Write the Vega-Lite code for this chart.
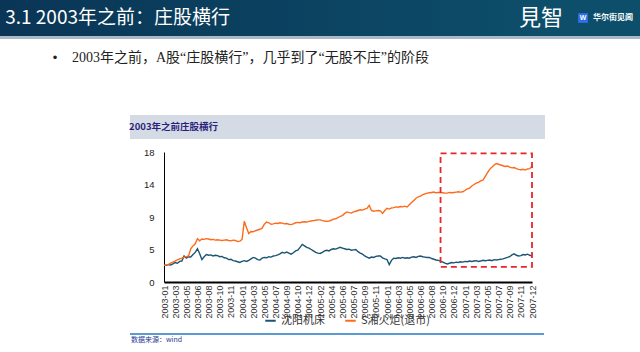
{
  "$schema": "https://vega.github.io/schema/vega-lite/v6.json",
  "background": "white",
  "padding": 0,
  "spacing": 0,
  "bounds": "full",
  "config": {"view": {"stroke": null}, "font": "Liberation Sans", "text": {"fontSize": 0}},
  "resolve": {"scale": {"color": "independent"}, "legend": {"color": "independent"}},
  "vconcat": [
    {
      "spacing": 0, "bounds": "flush",
      "hconcat": [
        {"width": 226, "height": 36, "data": {"values": [{}]},
         "mark": {"type": "rect", "fill": {"gradient": "linear", "x1": 0, "x2": 1, "y1": 0, "y2": 0, "stops": [{"offset": 0, "color": "#0a3556"}, {"offset": 1, "color": "#0b3f5e"}]}}},
        {"width": 8, "height": 36, "data": {"values": [{}]}, "view": {"fill": "#0b3f5e", "stroke": null},
         "mark": {"type": "text", "text": "3.1 2003年之前：庄股横行", "align": "right", "baseline": "middle", "font": "Noto Sans CJK SC", "fontSize": 19, "color": "white"}},
        {"width": 325, "height": 36, "data": {"values": [{}]},
         "mark": {"type": "rect", "fill": {"gradient": "linear", "x1": 0, "x2": 1, "y1": 0, "y2": 0, "stops": [{"offset": 0, "color": "#0b3f5e"}, {"offset": 1, "color": "#0d4f6b"}]}}},
        {"width": 8, "height": 36, "data": {"values": [{}]}, "view": {"fill": "#0d4f6b", "stroke": null},
         "mark": {"type": "text", "text": "見智", "align": "right", "baseline": "middle", "font": "Noto Sans CJK SC", "fontSize": 22, "color": "white"}},
        {"width": 11, "height": 36, "data": {"values": [{}]}, "view": {"fill": "#0d4f6b", "stroke": null}, "mark": {"type": "text", "text": ""}},
        {"width": 10, "height": 36, "data": {"values": [{}]}, "view": {"fill": "#0d4f6b", "stroke": null},
         "layer": [
           {"mark": {"type": "square", "fill": "#2d6fe6", "opacity": 1, "size": 95}},
           {"mark": {"type": "text", "text": "W", "fontSize": 7, "fontWeight": "bold", "color": "white", "baseline": "middle", "align": "center"}}
         ]},
        {"width": 44, "height": 36, "data": {"values": [{}]}, "view": {"fill": "#0d4f6b", "stroke": null}, "mark": {"type": "text", "text": ""}},
        {"width": 2, "height": 36, "data": {"values": [{}]}, "view": {"fill": "#0d4f6b", "stroke": null},
         "mark": {"type": "text", "text": "华尔街见闻", "align": "right", "baseline": "middle", "font": "Noto Sans CJK SC", "fontSize": 8, "fontWeight": "bold", "color": "white"}},
        {"width": 6, "height": 36, "data": {"values": [{}]}, "view": {"fill": "#0d4f6b", "stroke": null}, "mark": {"type": "text", "text": ""}}
      ]
    },
    {"width": 640, "height": 3, "data": {"values": [{}]}, "view": {"fill": "#a9bac6", "stroke": null}, "mark": {"type": "text", "text": ""}},
    {"width": 640, "height": 11, "data": {"values": [{}]}, "mark": {"type": "text", "text": ""}},
    {
      "spacing": 0, "bounds": "flush",
      "hconcat": [
        {"width": 53, "height": 15, "data": {"values": [{}]}, "mark": {"type": "text", "text": ""}},
        {"width": 4, "height": 15, "data": {"values": [{}]}, "mark": {"type": "text", "text": "•", "align": "center", "baseline": "middle", "fontSize": 13, "color": "#222"}},
        {"width": 14, "height": 15, "data": {"values": [{}]}, "mark": {"type": "text", "text": ""}},
        {"width": 2, "height": 15, "data": {"values": [{}]}, "mark": {"type": "text", "text": "2003年之前，A股“庄股横行”，几乎到了“无股不庄”的阶段", "align": "left", "baseline": "middle", "font": "Liberation Serif, Noto Sans CJK SC", "fontSize": 14, "color": "#222"}},
        {"width": 567, "height": 15, "data": {"values": [{}]}, "mark": {"type": "text", "text": ""}}
      ]
    },
    {"width": 640, "height": 50, "data": {"values": [{}]}, "mark": {"type": "text", "text": ""}},
    {
      "spacing": 0, "bounds": "flush",
      "hconcat": [
        {"width": 130, "height": 24, "data": {"values": [{}]}, "mark": {"type": "text", "text": ""}},
        {"width": 84, "height": 24, "data": {"values": [{}]}, "view": {"fill": "#d5dbe4", "stroke": null}, "mark": {"type": "text", "text": ""}},
        {"width": 8, "height": 24, "data": {"values": [{}]}, "view": {"fill": "#d5dbe4", "stroke": null},
         "mark": {"type": "text", "text": "2003年之前庄股横行", "align": "right", "baseline": "middle", "font": "Noto Sans CJK SC", "fontSize": 9.5, "fontWeight": "bold", "color": "#2a1f7c"}},
        {"width": 323, "height": 24, "data": {"values": [{}]}, "view": {"fill": "#d5dbe4", "stroke": null}, "mark": {"type": "text", "text": ""}},
        {"width": 95, "height": 24, "data": {"values": [{}]}, "mark": {"type": "text", "text": ""}}
      ]
    },
    {"width": 640, "height": 8, "data": {"values": [{}]}, "mark": {"type": "text", "text": ""}},
    {
      "spacing": 0, "bounds": "flush",
      "resolve": {"scale": {"color": "independent"}, "legend": {"color": "independent"}},
      "hconcat": [
        {"width": 164, "height": 130, "data": {"values": [{}]}, "mark": {"type": "text", "text": ""}},
        {
          "width": 368, "height": 130,
          "layer": [
            {
              "data": {"values": [
{"date":"2003-01-02","沈阳机床":2.35,"S湘火炬(退市)":2.3},
{"date":"2003-01-13","沈阳机床":2.3,"S湘火炬(退市)":2.35},
{"date":"2003-01-22","沈阳机床":2.4,"S湘火炬(退市)":2.45},
{"date":"2003-02-12","沈阳机床":2.35,"S湘火炬(退市)":2.6},
{"date":"2003-02-21","沈阳机床":2.5,"S湘火炬(退市)":2.75},
{"date":"2003-03-05","沈阳机床":2.7,"S湘火炬(退市)":2.9},
{"date":"2003-03-14","沈阳机床":2.6,"S湘火炬(退市)":3.05},
{"date":"2003-03-25","沈阳机床":2.85,"S湘火炬(退市)":3.2},
{"date":"2003-04-03","沈阳机床":2.9,"S湘火炬(退市)":3.3},
{"date":"2003-04-24","沈阳机床":3.6,"S湘火炬(退市)":3.45},
{"date":"2003-05-12","沈阳机床":3.3,"S湘火炬(退市)":3.5},
{"date":"2003-05-21","沈阳机床":3.5,"S湘火炬(退市)":3.6},
{"date":"2003-05-30","沈阳机床":3.45,"S湘火炬(退市)":4.6},
{"date":"2003-06-10","沈阳机床":3.8,"S湘火炬(退市)":5.0},
{"date":"2003-06-19","沈阳机床":4.1,"S湘火炬(退市)":5.3},
{"date":"2003-06-30","沈阳机床":4.6,"S湘火炬(退市)":6.0},
{"date":"2003-07-09","沈阳机床":3.9,"S湘火炬(退市)":5.7},
{"date":"2003-07-18","沈阳机床":3.1,"S湘火炬(退市)":5.95},
{"date":"2003-07-29","沈阳机床":3.5,"S湘火炬(退市)":5.9},
{"date":"2003-08-07","沈阳机床":3.8,"S湘火炬(退市)":6.0},
{"date":"2003-08-19","沈阳机床":3.7,"S湘火炬(退市)":5.95},
{"date":"2003-08-28","沈阳机床":3.75,"S湘火炬(退市)":5.85},
{"date":"2003-09-08","沈阳机床":3.6,"S湘火炬(退市)":5.9},
{"date":"2003-09-17","沈阳机床":3.7,"S湘火炬(退市)":5.8},
{"date":"2003-09-26","沈阳机床":3.65,"S湘火炬(退市)":5.85},
{"date":"2003-10-14","沈阳机床":3.5,"S湘火炬(退市)":5.8},
{"date":"2003-10-23","沈阳机床":3.55,"S湘火炬(退市)":5.75},
{"date":"2003-11-03","沈阳机床":3.35,"S湘火炬(退市)":5.8},
{"date":"2003-11-12","沈阳机床":3.3,"S湘火炬(退市)":5.85},
{"date":"2003-11-19","沈阳机床":3.1,"S湘火炬(退市)":5.75},
{"date":"2003-11-28","沈阳机床":3.15,"S湘火炬(退市)":5.7},
{"date":"2003-12-09","沈阳机床":2.95,"S湘火炬(退市)":5.8},
{"date":"2003-12-18","沈阳机床":2.9,"S湘火炬(退市)":5.75},
{"date":"2003-12-29","沈阳机床":2.8,"S湘火炬(退市)":5.6},
{"date":"2004-01-09","沈阳机床":2.7,"S湘火炬(退市)":5.65},
{"date":"2004-01-20","沈阳机床":2.85,"S湘火炬(退市)":5.9},
{"date":"2004-02-03","沈阳机床":2.95,"S湘火炬(退市)":8.4},
{"date":"2004-02-12","沈阳机床":2.85,"S湘火炬(退市)":7.5},
{"date":"2004-02-23","沈阳机床":3.0,"S湘火炬(退市)":6.7},
{"date":"2004-03-04","沈阳机床":3.2,"S湘火炬(退市)":7.0},
{"date":"2004-03-17","沈阳机床":3.4,"S湘火炬(退市)":6.95},
{"date":"2004-03-26","沈阳机床":3.3,"S湘火炬(退市)":7.1},
{"date":"2004-04-06","沈阳机床":3.1,"S湘火炬(退市)":7.2},
{"date":"2004-04-15","沈阳机床":3.05,"S湘火炬(退市)":7.3},
{"date":"2004-04-26","沈阳机床":3.3,"S湘火炬(退市)":7.45},
{"date":"2004-05-13","沈阳机床":3.4,"S湘火炬(退市)":8.0},
{"date":"2004-05-24","沈阳机床":3.35,"S湘火炬(退市)":8.3},
{"date":"2004-06-02","沈阳机床":3.5,"S湘火炬(退市)":8.2},
{"date":"2004-06-11","沈阳机床":3.45,"S湘火炬(退市)":8.0},
{"date":"2004-06-22","沈阳机床":3.6,"S湘火炬(退市)":8.05},
{"date":"2004-07-06","沈阳机床":3.65,"S湘火炬(退市)":8.15},
{"date":"2004-07-15","沈阳机床":3.75,"S湘火炬(退市)":8.1},
{"date":"2004-07-26","沈阳机床":3.9,"S湘火炬(退市)":8.2},
{"date":"2004-08-04","沈阳机床":4.1,"S湘火炬(退市)":8.15},
{"date":"2004-08-20","沈阳机床":4.0,"S湘火炬(退市)":8.05},
{"date":"2004-09-01","沈阳机床":4.15,"S湘火炬(退市)":8.1},
{"date":"2004-09-10","沈阳机床":4.0,"S湘火炬(退市)":8.0},
{"date":"2004-09-21","沈阳机床":3.85,"S湘火炬(退市)":7.95},
{"date":"2004-10-11","沈阳机床":4.05,"S湘火炬(退市)":8.05},
{"date":"2004-10-19","沈阳机床":4.3,"S湘火炬(退市)":8.2},
{"date":"2004-10-27","沈阳机床":4.4,"S湘火炬(退市)":8.25},
{"date":"2004-11-05","沈阳机床":4.8,"S湘火炬(退市)":8.2},
{"date":"2004-11-16","沈阳机床":5.2,"S湘火炬(退市)":8.3},
{"date":"2004-11-25","沈阳机床":5.0,"S湘火炬(退市)":8.35},
{"date":"2004-12-06","沈阳机床":4.8,"S湘火炬(退市)":8.3},
{"date":"2004-12-16","沈阳机床":4.7,"S湘火炬(退市)":8.4},
{"date":"2004-12-27","沈阳机床":4.5,"S湘火炬(退市)":8.45},
{"date":"2005-01-07","沈阳机床":4.3,"S湘火炬(退市)":8.5},
{"date":"2005-01-18","沈阳机床":4.1,"S湘火炬(退市)":8.55},
{"date":"2005-01-27","沈阳机床":4.0,"S湘火炬(退市)":8.6},
{"date":"2005-02-17","沈阳机床":3.95,"S湘火炬(退市)":8.6},
{"date":"2005-02-28","沈阳机床":4.1,"S湘火炬(退市)":8.5},
{"date":"2005-03-09","沈阳机床":4.3,"S湘火炬(退市)":8.45},
{"date":"2005-03-18","沈阳机床":4.4,"S湘火炬(退市)":8.4},
{"date":"2005-04-05","沈阳机床":4.3,"S湘火炬(退市)":8.45},
{"date":"2005-04-14","沈阳机床":4.5,"S湘火炬(退市)":8.55},
{"date":"2005-04-25","沈阳机床":4.6,"S湘火炬(退市)":8.7},
{"date":"2005-05-11","沈阳机床":4.55,"S湘火炬(退市)":8.75},
{"date":"2005-05-20","沈阳机床":4.7,"S湘火炬(退市)":8.9},
{"date":"2005-05-31","沈阳机床":4.8,"S湘火炬(退市)":9.1},
{"date":"2005-06-08","沈阳机床":4.7,"S湘火炬(退市)":9.2},
{"date":"2005-06-17","沈阳机床":4.6,"S湘火炬(退市)":9.5},
{"date":"2005-06-28","沈阳机床":4.5,"S湘火炬(退市)":9.7},
{"date":"2005-07-07","沈阳机床":4.55,"S湘火炬(退市)":9.6},
{"date":"2005-07-18","沈阳机床":4.4,"S湘火炬(退市)":9.55},
{"date":"2005-07-28","沈阳机床":4.45,"S湘火炬(退市)":9.7},
{"date":"2005-08-08","沈阳机床":4.5,"S湘火炬(退市)":9.8},
{"date":"2005-08-17","沈阳机床":4.2,"S湘火炬(退市)":9.9},
{"date":"2005-08-26","沈阳机床":4.0,"S湘火炬(退市)":10.0},
{"date":"2005-09-06","沈阳机床":3.85,"S湘火炬(退市)":9.95},
{"date":"2005-09-15","沈阳机床":3.6,"S湘火炬(退市)":10.1},
{"date":"2005-09-26","沈阳机床":3.45,"S湘火炬(退市)":10.2},
{"date":"2005-10-12","沈阳机床":3.3,"S湘火炬(退市)":10.6},
{"date":"2005-10-21","沈阳机床":3.45,"S湘火炬(退市)":9.9},
{"date":"2005-11-01","沈阳机床":3.4,"S湘火炬(退市)":9.8},
{"date":"2005-11-14","沈阳机床":3.55,"S湘火炬(退市)":9.85},
{"date":"2005-11-23","沈阳机床":3.6,"S湘火炬(退市)":9.9},
{"date":"2005-12-02","沈阳机床":3.6,"S湘火炬(退市)":9.85},
{"date":"2005-12-13","沈阳机床":3.35,"S湘火炬(退市)":9.5},
{"date":"2005-12-22","沈阳机床":3.2,"S湘火炬(退市)":9.9},
{"date":"2006-01-05","沈阳机床":3.1,"S湘火炬(退市)":10.2},
{"date":"2006-01-16","沈阳机床":2.4,"S湘火炬(退市)":10.1},
{"date":"2006-01-25","沈阳机床":3.0,"S湘火炬(退市)":10.25},
{"date":"2006-02-10","沈阳机床":3.3,"S湘火炬(退市)":10.3},
{"date":"2006-02-21","沈阳机床":3.25,"S湘火炬(退市)":10.4},
{"date":"2006-03-07","沈阳机床":3.35,"S湘火炬(退市)":10.35},
{"date":"2006-03-16","沈阳机床":3.3,"S湘火炬(退市)":10.45},
{"date":"2006-03-27","沈阳机床":3.4,"S湘火炬(退市)":10.4},
{"date":"2006-04-05","沈阳机床":3.3,"S湘火炬(退市)":10.5},
{"date":"2006-04-25","沈阳机床":3.35,"S湘火炬(退市)":10.4},
{"date":"2006-05-08","沈阳机床":3.3,"S湘火炬(退市)":10.7},
{"date":"2006-05-17","沈阳机床":3.45,"S湘火炬(退市)":11.0},
{"date":"2006-05-26","沈阳机床":3.5,"S湘火炬(退市)":11.3},
{"date":"2006-06-06","沈阳机床":3.4,"S湘火炬(退市)":11.6},
{"date":"2006-06-15","沈阳机床":3.55,"S湘火炬(退市)":11.8},
{"date":"2006-06-29","沈阳机床":3.6,"S湘火炬(退市)":11.9},
{"date":"2006-07-10","沈阳机床":3.5,"S湘火炬(退市)":12.1},
{"date":"2006-07-19","沈阳机床":3.45,"S湘火炬(退市)":12.2},
{"date":"2006-07-28","沈阳机床":3.4,"S湘火炬(退市)":12.3},
{"date":"2006-08-08","沈阳机床":3.4,"S湘火炬(退市)":12.35},
{"date":"2006-08-18","沈阳机床":3.25,"S湘火炬(退市)":12.4},
{"date":"2006-08-29","沈阳机床":3.15,"S湘火炬(退市)":12.45},
{"date":"2006-09-07","沈阳机床":3.05,"S湘火炬(退市)":12.35},
{"date":"2006-09-18","沈阳机床":3.0,"S湘火炬(退市)":12.4},
{"date":"2006-09-27","沈阳机床":2.9,"S湘火炬(退市)":12.4},
{"date":"2006-10-16","沈阳机床":2.75,"S湘火炬(退市)":12.35},
{"date":"2006-10-25","沈阳机床":2.6,"S湘火炬(退市)":12.3},
{"date":"2006-11-03","沈阳机床":2.5,"S湘火炬(退市)":12.3},
{"date":"2006-11-14","沈阳机床":2.6,"S湘火炬(退市)":12.4},
{"date":"2006-11-23","沈阳机床":2.7,"S湘火炬(退市)":12.35},
{"date":"2006-12-06","沈阳机床":2.65,"S湘火炬(退市)":12.4},
{"date":"2006-12-15","沈阳机床":2.75,"S湘火炬(退市)":12.45},
{"date":"2006-12-26","沈阳机床":2.7,"S湘火炬(退市)":12.5},
{"date":"2007-01-08","沈阳机床":2.8,"S湘火炬(退市)":12.45},
{"date":"2007-01-17","沈阳机床":2.75,"S湘火炬(退市)":12.5},
{"date":"2007-01-29","沈阳机床":2.85,"S湘火炬(退市)":12.7},
{"date":"2007-02-07","沈阳机床":2.8,"S湘火炬(退市)":12.9},
{"date":"2007-02-16","沈阳机床":2.9,"S湘火炬(退市)":13.0},
{"date":"2007-03-05","沈阳机床":2.85,"S湘火炬(退市)":13.3},
{"date":"2007-03-14","沈阳机床":2.9,"S湘火炬(退市)":13.5},
{"date":"2007-03-27","沈阳机床":2.95,"S湘火炬(退市)":13.7},
{"date":"2007-04-05","沈阳机床":2.85,"S湘火炬(退市)":13.8},
{"date":"2007-04-16","沈阳机床":2.9,"S湘火炬(退市)":14.0},
{"date":"2007-04-25","沈阳机床":3.0,"S湘火炬(退市)":14.1},
{"date":"2007-05-11","沈阳机床":2.95,"S湘火炬(退市)":14.6},
{"date":"2007-05-22","沈阳机床":3.0,"S湘火炬(退市)":15.1},
{"date":"2007-05-31","沈阳机床":3.05,"S湘火炬(退市)":15.6},
{"date":"2007-06-11","沈阳机床":2.95,"S湘火炬(退市)":15.9},
{"date":"2007-06-20","沈阳机床":3.1,"S湘火炬(退市)":16.2},
{"date":"2007-07-02","沈阳机床":3.05,"S湘火炬(退市)":16.4},
{"date":"2007-07-12","沈阳机床":3.1,"S湘火炬(退市)":16.3},
{"date":"2007-07-23","沈阳机床":3.15,"S湘火炬(退市)":16.2},
{"date":"2007-08-01","沈阳机床":3.2,"S湘火炬(退市)":16.1},
{"date":"2007-08-10","沈阳机床":3.3,"S湘火炬(退市)":16.0},
{"date":"2007-08-21","沈阳机床":3.4,"S湘火炬(退市)":16.05},
{"date":"2007-09-03","沈阳机床":3.5,"S湘火炬(退市)":15.9},
{"date":"2007-09-12","沈阳机床":3.75,"S湘火炬(退市)":15.8},
{"date":"2007-09-21","沈阳机床":3.9,"S湘火炬(退市)":15.85},
{"date":"2007-10-11","沈阳机床":3.7,"S湘火炬(退市)":15.7},
{"date":"2007-10-22","沈阳机床":3.6,"S湘火炬(退市)":15.6},
{"date":"2007-11-01","沈阳机床":3.65,"S湘火炬(退市)":15.55},
{"date":"2007-11-12","沈阳机床":3.8,"S湘火炬(退市)":15.6},
{"date":"2007-11-21","沈阳机床":3.75,"S湘火炬(退市)":15.5},
{"date":"2007-11-30","沈阳机床":3.85,"S湘火炬(退市)":15.65},
{"date":"2007-12-11","沈阳机床":3.7,"S湘火炬(退市)":15.7},
{"date":"2007-12-28","沈阳机床":3.6,"S湘火炬(退市)":16.0}
              ]},
              "transform": [{"fold": ["沈阳机床", "S湘火炬(退市)"], "as": ["stock", "price"]}],
              "mark": {"type": "line", "strokeWidth": 1.4},
              "encoding": {
                "x": {"field": "date", "type": "ordinal", "scale": {"type": "point", "padding": 0},
                      "axis": {"values": ["2003-01-02","2003-03-05","2003-05-12","2003-06-30","2003-08-19","2003-10-14","2003-11-28","2004-01-20","2004-03-17","2004-05-13","2004-07-06","2004-09-01","2004-10-27","2004-12-16","2005-02-17","2005-04-14","2005-06-08","2005-07-28","2005-09-15","2005-11-14","2006-01-05","2006-03-07","2006-05-08","2006-06-29","2006-08-18","2006-10-16","2006-12-06","2007-01-29","2007-03-27","2007-05-22","2007-07-12","2007-09-03","2007-11-01","2007-12-28"],
                               "labelExpr": "substring(datum.value, 0, 7)", "labelAngle": 270, "labelFontSize": 9, "labelColor": "#333", "labelPadding": 3, "labelOverlap": false, "ticks": false, "domainColor": "#000", "domainWidth": 2, "grid": false, "title": null}},
                "y": {"field": "price", "type": "quantitative", "scale": {"domain": [0, 18], "nice": false},
                      "axis": {"values": [0, 4.5, 9, 13.5, 18], "labelExpr": "format(datum.value, '.0f')", "labelOverlap": false, "ticks": false, "domainColor": "#000", "domainWidth": 1, "labelFontSize": 9.5, "labelColor": "#222", "labelPadding": 10, "grid": false, "title": null}},
                "color": {"field": "stock", "type": "nominal", "sort": ["沈阳机床", "S湘火炬(退市)"],
                          "scale": {"domain": ["沈阳机床", "S湘火炬(退市)"], "range": ["#1b5472", "#ff6a1a"]},
                          "legend": {"orient": "none", "legendX": 100, "legendY": 162, "direction": "horizontal", "title": null, "symbolType": "stroke", "symbolStrokeWidth": 2, "symbolSize": 110, "labelFont": "Noto Sans CJK SC", "labelFontSize": 11, "labelColor": "#333", "columnPadding": 16}}
              }
            },
            {
              "data": {"values": [{"start": "2006-09-27", "end": "2007-12-28", "low": 2.1, "high": 17.8}]},
              "mark": {"type": "rect", "fill": null, "stroke": "#e8262a", "strokeWidth": 1.8, "strokeDash": [6, 4]},
              "encoding": {
                "x": {"field": "start", "type": "ordinal",
                      "axis": {"values": ["2003-01-02","2003-03-05","2003-05-12","2003-06-30","2003-08-19","2003-10-14","2003-11-28","2004-01-20","2004-03-17","2004-05-13","2004-07-06","2004-09-01","2004-10-27","2004-12-16","2005-02-17","2005-04-14","2005-06-08","2005-07-28","2005-09-15","2005-11-14","2006-01-05","2006-03-07","2006-05-08","2006-06-29","2006-08-18","2006-10-16","2006-12-06","2007-01-29","2007-03-27","2007-05-22","2007-07-12","2007-09-03","2007-11-01","2007-12-28"],
                               "labelExpr": "substring(datum.value, 0, 7)", "labelAngle": 270, "labelFontSize": 9, "labelColor": "#333", "labelPadding": 3, "labelOverlap": false, "ticks": false, "domainColor": "#000", "domainWidth": 2, "grid": false, "title": null}},
                "x2": {"field": "end"},
                "y": {"field": "low", "type": "quantitative",
                      "axis": {"values": [0, 4.5, 9, 13.5, 18], "labelExpr": "format(datum.value, '.0f')", "labelOverlap": false, "ticks": false, "domainColor": "#000", "domainWidth": 1, "labelFontSize": 9.5, "labelColor": "#222", "labelPadding": 10, "grid": false, "title": null}},
                "y2": {"field": "high"}
              }
            }
          ]
        },
        {"width": 108, "height": 130, "data": {"values": [{}]}, "mark": {"type": "text", "text": ""}}
      ]
    },
    {"width": 640, "height": 7, "data": {"values": [{}]}, "mark": {"type": "text", "text": ""}},
    {
      "spacing": 0, "bounds": "flush",
      "hconcat": [
        {"width": 130, "height": 2, "data": {"values": [{}]}, "mark": {"type": "text", "text": ""}},
        {"width": 414, "height": 2, "data": {"values": [{}]}, "view": {"fill": "#5b9bd5", "stroke": null}, "mark": {"type": "text", "text": ""}},
        {"width": 96, "height": 2, "data": {"values": [{}]}, "mark": {"type": "text", "text": ""}}
      ]
    },
    {
      "spacing": 0, "bounds": "flush",
      "hconcat": [
        {"width": 130, "height": 10, "data": {"values": [{}]}, "mark": {"type": "text", "text": ""}},
        {"width": 2, "height": 10, "data": {"values": [{}]}, "mark": {"type": "text", "text": "数据来源：wind", "align": "left", "baseline": "middle", "font": "Noto Sans CJK SC", "fontSize": 7, "color": "#1f3a93"}},
        {"width": 508, "height": 10, "data": {"values": [{}]}, "mark": {"type": "text", "text": ""}}
      ]
    },
    {"width": 640, "height": 5, "data": {"values": [{}]}, "mark": {"type": "text", "text": ""}}
  ]
}
